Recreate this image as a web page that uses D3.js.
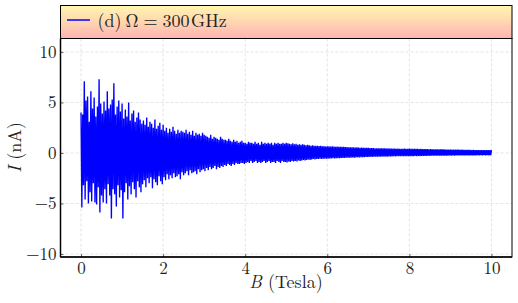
<!DOCTYPE html>
<html>
<head>
<meta charset="utf-8">
<script src="https://cdn.jsdelivr.net/npm/d3@7"></script>
<style>
  body { margin: 0; background: #fff; }
</style>
</head>
<body>
<div id="chart"></div>
<script>
var bStart = 0, bStep = 0.02;
var current = [
  // 0 - 0.5
  4.0, -5.4, 3.8, -3.2, 7.1, -4.6, 5.2, -2.8, 5.6, -5.0, 3.1, -3.9, 6.1, -4.8, 4.4, -3.0, 5.5, -4.9, 3.6, -5.1, 4.6, -3.4, 7.3, -5.9, 4.9, -4.2,
  // 0.5 - 1
  3.9, -4.9, 5.1, -3.6, 4.2, -5.0, 6.1, -3.1, 4.4, -4.2, 4.8, -6.5, 5.3, -3.6, 6.9, -4.1, 3.8, -5.3, 4.6, -3.2, 5.2, -4.4, 4.1, -3.7, 4.9,
  // 1 - 1.5
  -6.5, 3.4, -3.9, 4.3, -3.0, 3.6, -4.6, 5.0, -3.3, 3.2, -4.1, 3.9, -2.9, 4.2, -3.6, 3.1, -4.4, 3.5, -2.8, 4.0, -3.4, 3.3, -3.9, 2.9, -3.1,
  // 1.5 - 2
  3.2, -2.7, 2.8, -3.4, 3.5, -2.5, 2.6, -3.0, 3.1, -2.4, 2.9, -3.5, 2.5, -2.6, 3.3, -2.9, 2.4, -3.2, 2.7, -2.3, 3.0, -2.8, 2.3, -3.1, 2.8,
  // 2 - 2.5
  -2.4, 2.2, -2.7, 2.5, -2.1, 2.0, -2.6, 2.4, -2.2, 2.1, -2.5, 2.6, -2.0, 2.2, -2.4, 1.9, -2.3, 2.3, -2.1, 2.0, -2.6, 2.2, -1.9, 2.1, -2.2,
  // 2.5 - 3
  2.0, -2.0, 2.3, -1.8, 1.9, -2.2, 2.1, -1.7, 1.8, -2.0, 2.2, -1.9, 1.7, -1.8, 2.0, -2.1, 1.8, -1.6, 1.9, -1.9, 1.7, -1.7, 2.0, -1.6, 1.8,
  // 3 - 3.5
  -1.8, 1.7, -1.5, 1.6, -1.7, 1.5, -1.4, 1.8, -1.6, 1.4, -1.5, 1.6, -1.3, 1.5, -1.6, 1.4, -1.4, 1.3, -1.5, 1.6, -1.3, 1.4, -1.4, 1.3, -1.2,
  // 3.5 - 4
  1.3, -1.3, 1.2, -1.1, 1.4, -1.2, 1.2, -1.3, 1.1, -1.1, 1.3, -1.2, 1.1, -1.0, 1.2, -1.1, 1.0, -1.1, 1.1, -1.0, 1.2, -1.0, 1.0, -1.1, 1.0,
  // 4 - 5
  -1.0, 0.9, -0.9, 1.1, -1.0, 1.0, -0.8, 1.0, -1.0, 0.9,
  -0.9, 1.1, -0.8, 0.9, -1.0, 1.0, -0.9, 0.8, -1.0, 1.1,
  -0.9, 0.9, -0.8, 1.0, -1.0, 0.9, -0.9, 1.0, -0.8, 0.9,
  -1.0, 1.0, -0.9, 0.8, -0.9, 1.0, -1.0, 0.9, -0.8, 1.0,
  -0.9, 0.9, -1.0, 0.9, -0.8, 1.0, -0.9, 0.9, -0.9, 1.0,
  // 5 - 6
  -0.95, 0.95, -0.85, 0.9, -0.9, 0.85, -0.8, 0.95, -0.85, 0.85,
  -0.8, 0.9, -0.85, 0.8, -0.75, 0.85, -0.8, 0.8, -0.75, 0.85,
  -0.7, 0.8, -0.75, 0.75, -0.7, 0.8, -0.65, 0.75, -0.7, 0.7,
  -0.65, 0.75, -0.6, 0.7, -0.65, 0.7, -0.6, 0.72, -0.6, 0.68,
  -0.58, 0.7, -0.6, 0.66, -0.56, 0.68, -0.58, 0.64, -0.56, 0.66,
  // 6 - 8
  -0.56, 0.66, -0.55, 0.64, -0.54, 0.65, -0.53, 0.63, -0.54, 0.62,
  -0.52, 0.63, -0.51, 0.61, -0.52, 0.6, -0.5, 0.61, -0.49, 0.6,
  -0.5, 0.58, -0.48, 0.59, -0.47, 0.57, -0.48, 0.56, -0.46, 0.57,
  -0.45, 0.55, -0.46, 0.54, -0.44, 0.55, -0.43, 0.53, -0.44, 0.52,
  -0.42, 0.53, -0.41, 0.51, -0.42, 0.5, -0.4, 0.51, -0.39, 0.5,
  -0.4, 0.49, -0.38, 0.48, -0.39, 0.48, -0.37, 0.47, -0.38, 0.46,
  -0.37, 0.47, -0.36, 0.46, -0.37, 0.45, -0.35, 0.46, -0.36, 0.45,
  -0.35, 0.44, -0.36, 0.45, -0.34, 0.44, -0.35, 0.43, -0.34, 0.44,
  -0.33, 0.43, -0.34, 0.42, -0.33, 0.43, -0.32, 0.42, -0.33, 0.41,
  -0.32, 0.42, -0.33, 0.43, -0.31, 0.42, -0.32, 0.41, -0.33, 0.43,
  // 8 - 10
  -0.32, 0.42, -0.31, 0.41, -0.32, 0.4, -0.3, 0.41, -0.31, 0.4,
  -0.3, 0.39, -0.31, 0.4, -0.29, 0.39, -0.3, 0.38, -0.29, 0.39,
  -0.29, 0.38, -0.28, 0.37, -0.29, 0.38, -0.28, 0.37, -0.27, 0.36,
  -0.28, 0.37, -0.27, 0.36, -0.28, 0.35, -0.27, 0.36, -0.26, 0.35,
  -0.27, 0.35, -0.26, 0.34, -0.27, 0.34, -0.26, 0.33, -0.25, 0.34,
  -0.26, 0.33, -0.25, 0.32, -0.26, 0.33, -0.25, 0.32, -0.24, 0.32,
  -0.25, 0.31, -0.24, 0.32, -0.25, 0.31, -0.24, 0.3, -0.24, 0.31,
  -0.24, 0.3, -0.23, 0.3, -0.24, 0.29, -0.23, 0.3, -0.23, 0.29,
  -0.23, 0.29, -0.22, 0.28, -0.23, 0.29, -0.22, 0.28, -0.23, 0.28,
  -0.22, 0.28, -0.23, 0.27, -0.22, 0.28, -0.23, 0.27, -0.22, 0.27
];
var xTicks = [0, 2, 4, 6, 8, 10];
var yTicks = [-10, -5, 0, 5, 10];
// legend label pieces, set with TeX-like math spacing
var legendParts = ["(d)", "Ω", "=", "300", "GHz"];

// setup
var w = 518, h = 303;
var plotL = 60.5, plotR = 512, plotT = 38.5, plotB = 257;
var serif = "'Latin Modern Roman', 'Liberation Serif', serif";

var svg = d3.select("#chart").append("svg")
    .attr("width", w).attr("height", h);

var x = d3.scaleLinear().domain([-0.5, 10.5]).range([plotL, plotR]);
var y = d3.scaleLinear().domain([-10.3, 11.33]).range([plotB, plotT]);

var points = current.map(function(v, i){ return [bStart + i * bStep, v]; });

// grid
var grid = svg.append("g");
grid.selectAll(".gx").data(xTicks).enter().append("line")
    .attr("x1", d => x(d)).attr("x2", d => x(d))
    .attr("y1", plotT).attr("y2", plotB)
    .attr("stroke", "#ddd").attr("stroke-width", 0.8).attr("stroke-dasharray", "3,2");
grid.selectAll(".gy").data(yTicks).enter().append("line")
    .attr("x1", plotL).attr("x2", plotR)
    .attr("y1", d => y(d)).attr("y2", d => y(d))
    .attr("stroke", "#ddd").attr("stroke-width", 0.8).attr("stroke-dasharray", "3,2");

// the signal
var line = d3.line().x(d => x(d[0])).y(d => y(d[1]));
svg.append("path")
    .datum(points)
    .attr("d", line)
    .attr("fill", "none")
    .attr("stroke", "#0000ff")
    .attr("stroke-width", 1.35);

// axes (ticks inward)
var xAxis = d3.axisBottom(x).tickValues(xTicks).tickSize(-3).tickPadding(5);
var yAxis = d3.axisLeft(y).tickValues(yTicks).tickSize(-3).tickPadding(4)
    .tickFormat(d => d < 0 ? "\u2212" + Math.abs(d) : d);

var gx = svg.append("g").attr("transform", "translate(0," + plotB + ")").call(xAxis);
var gy = svg.append("g").attr("transform", "translate(" + plotL + ",0)").call(yAxis);
[gx, gy].forEach(function(g){
    g.select(".domain").remove();
    g.selectAll(".tick line").attr("stroke", "#444").attr("stroke-width", 0.8);
    g.selectAll(".tick text")
        .style("font-family", serif)
        .style("font-size", "17px")
        .attr("fill", "#222");
});

// frame
svg.append("rect")
    .attr("x", plotL).attr("y", plotT)
    .attr("width", plotR - plotL).attr("height", plotB - plotT)
    .attr("fill", "none").attr("stroke", "#000").attr("stroke-width", 1);
svg.append("line").attr("x1", plotL).attr("x2", plotL).attr("y1", plotT).attr("y2", plotB)
    .attr("stroke", "#000").attr("stroke-width", 1.5);
svg.append("line").attr("x1", plotL).attr("x2", plotR).attr("y1", plotB).attr("y2", plotB)
    .attr("stroke", "#000").attr("stroke-width", 1.5);

// legend box with gradient
var grad = svg.append("defs").append("linearGradient")
    .attr("id", "lg").attr("x1", 0).attr("x2", 0).attr("y1", 0).attr("y2", 1);
grad.append("stop").attr("offset", "0%").attr("stop-color", "#fff7ae");
grad.append("stop").attr("offset", "100%").attr("stop-color", "#ffb3b3");
svg.append("rect")
    .attr("x", plotL).attr("y", 5.5)
    .attr("width", plotR - plotL).attr("height", plotT - 5.5)
    .attr("fill", "url(#lg)").attr("stroke", "#000").attr("stroke-width", 1);
svg.append("line")
    .attr("x1", 67).attr("x2", 90).attr("y1", 20).attr("y2", 20)
    .attr("stroke", "#0000ff").attr("stroke-width", 1.5);
var legendX = [97.5, 125.5, 143.5, 162.5, 191];
svg.append("text")
    .attr("y", 26.5)
    .style("font-family", serif)
    .style("font-size", "18px")
    .attr("fill", "#222")
    .selectAll("tspan").data(legendParts).enter().append("tspan")
    .attr("x", (d, i) => legendX[i])
    .text(d => d);

// axis labels
var xl = svg.append("text")
    .attr("x", 286).attr("y", 288)
    .attr("text-anchor", "middle")
    .style("font-family", serif)
    .style("font-size", "18px")
    .attr("fill", "#222");
xl.append("tspan").style("font-style", "italic").text("B");
xl.append("tspan").text(" (Tesla)");

var yl = svg.append("text")
    .attr("transform", "translate(21,147.5) rotate(-90)")
    .attr("text-anchor", "middle")
    .style("font-family", serif)
    .style("font-size", "18px")
    .attr("fill", "#222");
yl.append("tspan").style("font-style", "italic").text("I");
yl.append("tspan").text(" (nA)");
</script>
</body>
</html>
